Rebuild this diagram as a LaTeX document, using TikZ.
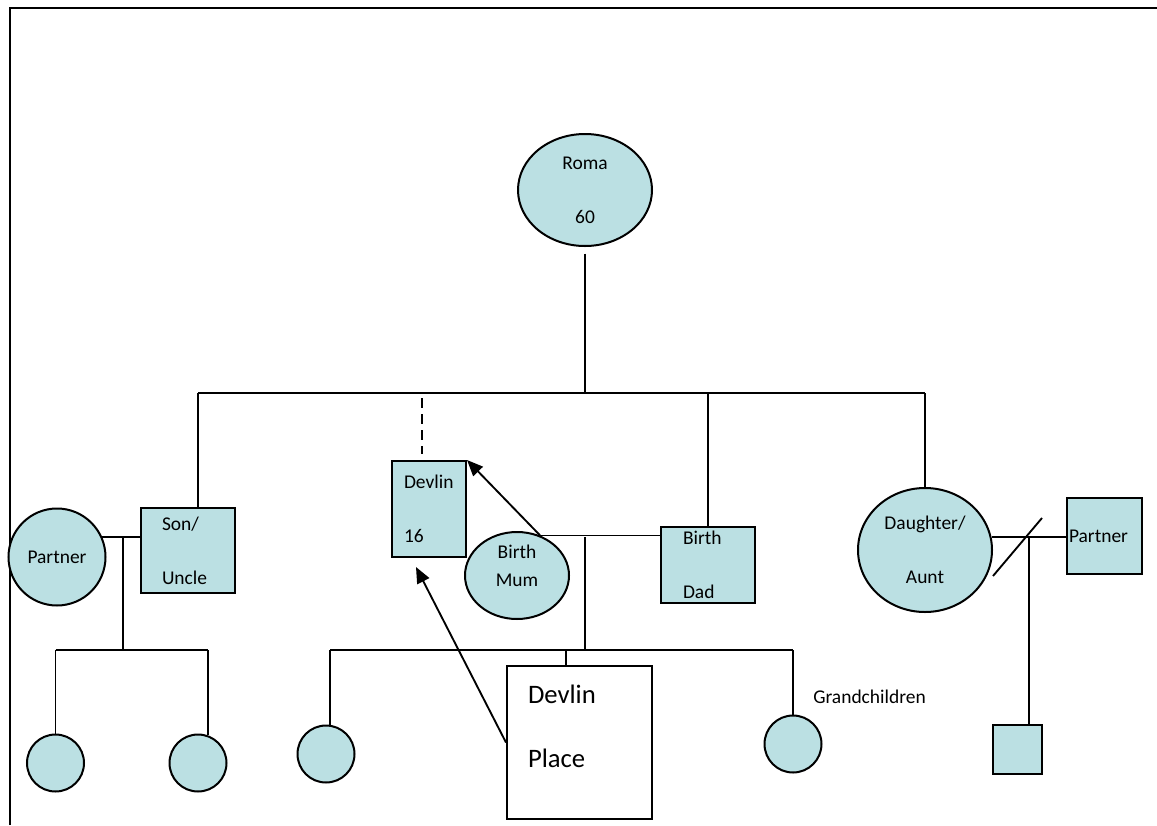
\documentclass[tikz,border=0pt]{standalone}
\usepackage{fontspec}
\setmainfont{Carlito}
\usetikzlibrary{arrows.meta,positioning,shapes.geometric,calc}
\definecolor{Aqua}{HTML}{BBE0E3}
\tikzset{
  male/.style={
    rectangle,draw=black,line width=1.5pt,fill=Aqua,inner ysep=0pt,
    align=left,font=\fontsize{14.6}{17.5}\selectfont
  },
  female/.style={
    ellipse,draw=black,line width=1.5pt,fill=Aqua,inner sep=0pt,
    align=center,font=\fontsize{14.6}{17.5}\selectfont
  },
  kid/.style={circle,draw=black,line width=1.5pt,fill=Aqua,inner sep=0pt,minimum size=42.75pt},
  note/.style={inner sep=0pt,font=\fontsize{14.6}{17.5}\selectfont},
  link/.style={draw=black,line width=1.4pt},
  arrow/.style={link,-{Triangle[length=12pt,width=10pt]}}
}
\begin{document}
\begin{tikzpicture}[x=0.75pt,y=-0.75pt]
  \useasboundingbox (0,0) rectangle (1157,825);
  \draw[line width=1.6pt] (10,825) -- (10,8) -- (1157,8);

  % grandmother and her children
  \node[female,minimum width=100.5pt,minimum height=84pt] (roma) at (585,190) {Roma\\[23pt]60};
  \node[male,inner xsep=15.75pt,text width=39pt,minimum height=63.75pt] (son) at (188,550.5) {Son/\\[23pt]Uncle};
  \node[female,circle,minimum size=72.75pt] (partnerL) at (57,557) {Partner};
  \node[male,inner xsep=9pt,text width=37.5pt,minimum height=72pt] (devlin) at (429,509) {Devlin\\[23pt]16};
  \node[female,minimum width=78pt,minimum height=63.75pt,text depth=15pt] (mum) at (517,575.5) {Birth\\[3.5pt]Mum};
  \node[male,inner xsep=16.5pt,text width=37.5pt,minimum height=57pt] (dad) at (708,565) {Birth\\[23pt]Dad};
  \node[female,minimum width=100.5pt,minimum height=93pt] (daughter) at (925,550) {Daughter/\\[23pt]Aunt};
  \node[male,inner xsep=1.5pt,text width=53.25pt,minimum height=57pt] (partnerR) at (1104.5,536) {Partner};

  % next generation
  \node[male,fill=white,inner xsep=15.75pt,text width=77.25pt,minimum height=114.75pt,
        text depth=73pt,font=\fontsize{20}{24}\selectfont] (place) at (579.5,742.5) {Devlin\\[24pt]Place};
  \node[kid] (kidA) at (55.5,763) {};
  \node[kid] (kidB) at (198,763) {};
  \node[kid] (grandA) at (326,754) {};
  \node[kid] (grandB) at (793,744) {};
  \node[male,minimum size=36.75pt,inner sep=0pt] (child) at (1017.5,749) {};
  \node[note,anchor=base west] (grandLabel) at (813,703) {Grandchildren};

  \coordinate (sibL) at (198,393);
  \coordinate (sibR) at (925,393);
  \coordinate (adopt) at (422,398);
  \coordinate (coupleL) at (123,537);
  \coordinate (kidsL) at (123,650);
  \coordinate (coupleM) at (585,537);
  \coordinate (kidsM) at (585,650);
  \coordinate (placeTop) at (566,650);
  \coordinate (tipA) at (416,567);
  \coordinate (coupleR) at (1029,537);

  \draw[link] ([yshift=-5pt]roma.south) -- (roma.south |- sibL);
  \draw[link] (sibL) -- (sibR);
  \draw[link] (sibL) -- (sibL |- son.north);
  \draw[link] (sibR) -- (daughter.north);
  \draw[link] (sibL -| dad.north) -- (dad.north);
  \draw[link,dash pattern=on 7.5pt off 4.5pt,shorten >=4.5pt] (adopt) -- (adopt |- devlin.north);

  \draw[link] (partnerL.24) -- (partnerL.24 -| son.west);
  \draw[link] (coupleL) -- (kidsL);
  \draw[link] (kidA |- kidsL) -- (kidB.70 |- kidsL);
  \draw[link] (kidA |- kidsL) -- (kidA.north);
  \draw[link] (kidB.70 |- kidsL) -- (kidB.70);

  \draw[link] (mum.60) -- (mum.60 -| dad.west);
  \draw[arrow] (mum.60) -- (devlin.north east);
  \draw[link] (coupleM) -- (kidsM);
  \draw[link] (grandA.82 |- kidsM) -- (grandB |- kidsM);
  \draw[link] (grandA.82 |- kidsM) -- (grandA.82);
  \draw[link] (grandB |- kidsM) -- (grandB.north);
  \draw[link] (placeTop) -- (placeTop |- place.north);
  \draw[arrow] (place.west) -- (tipA);

  \draw[link] (daughter.11) -- (daughter.11 -| partnerR.west);
  \draw[link] (coupleR) -- (coupleR |- child.north);
  \draw[link] ($(coupleR)+(-36,39)$) -- ($(coupleR)+(13,-19)$);
\end{tikzpicture}
\end{document}
